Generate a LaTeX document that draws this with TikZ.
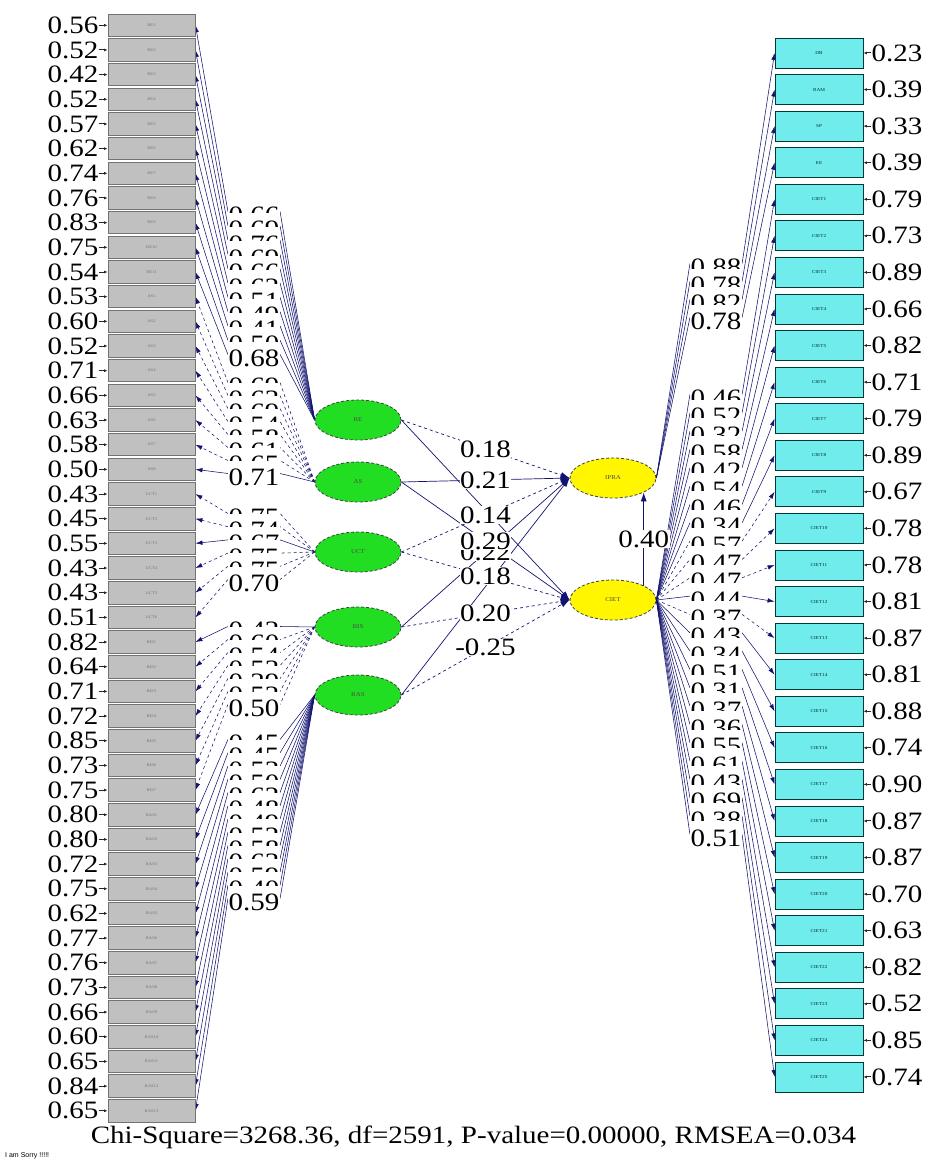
\documentclass[tikz,border=0pt]{standalone}
\usepackage{fontspec}
\setmainfont{Liberation Serif}[FakeStretch=1.16]
\setsansfont{Liberation Sans}
\usetikzlibrary{arrows.meta,shapes.geometric,positioning,backgrounds,calc}
\definecolor{obsgray}{RGB}{192,192,192}
\definecolor{obscyan}{RGB}{112,236,236}
\definecolor{exgreen}{RGB}{34,222,34}
\definecolor{enyellow}{RGB}{255,246,0}
\definecolor{pathnavy}{RGB}{18,18,112}
\newcommand{\bignum}{\fontsize{25}{25}\selectfont}
\tikzset{
  obsx/.style={
    draw=black!55,
    line width=0.9pt,
    fill=obsgray,
    minimum width=87pt,
    minimum height=22.5pt,
    inner sep=0pt,
    font=\fontsize{4}{4}\selectfont,
    text=black!55
  },
  obsy/.style={
    draw=teal!45!black,
    line width=0.9pt,
    fill=obscyan,
    minimum width=88pt,
    minimum height=30pt,
    inner sep=0pt,
    font=\fontsize{4.5}{4.5}\selectfont,
    text=teal!35!black
  },
  latent/.style={ellipse, draw=black!75, line width=0.8pt, dash pattern=on 3pt off 2pt,
    minimum width=86pt, minimum height=40pt, inner sep=0pt, font=\fontsize{6}{6}\selectfont, text=black!70},
  errnum/.style={font=\bignum, inner sep=0pt},
  ldnum/.style={font=\bignum, fill=white, inner xsep=0.5pt, inner ysep=0pt, text height=25pt, text depth=1pt},
  ldline/.style={draw=pathnavy, line width=0.55pt},
  ldtip/.style={-{Latex[length=7pt,width=4.5pt]}},
  errln/.style={draw=black!85, line width=1pt, -{Latex[length=3.5pt,width=3pt]}},
  spath/.style={draw=pathnavy, line width=0.7pt, -{Latex[length=9pt,width=6pt]}},
  pnum/.style={font=\bignum, fill=white, inner sep=0.5pt},
}
% loadings of one latent, labels stacked, lines latent -> label -> box
\newcommand{\LoadsWest}[6]{%
  \foreach \v/\s [count=\k] in {#6} {
    \pgfmathtruncatemacro{\j}{#3+\k-1}
    \node[ldnum] (#2\k) at (254,{#4+(\k-1)*#5}) {\v};
    \scoped[on background layer]{
      \draw[ldline,\s] (#1.west) -- (#2\k.east);
      \draw[ldline,ldtip,\s] (#2\k.west) -- (x\j.east);
    }
  }
}
\newcommand{\LoadsEast}[6]{%
  \foreach \v/\s [count=\k] in {#6} {
    \pgfmathtruncatemacro{\j}{#3+\k-1}
    \node[ldnum] (#2\k) at (716,{#4+(\k-1)*#5}) {\v};
    \scoped[on background layer]{
      \draw[ldline,\s] (#1.east) -- (#2\k.west);
      \draw[ldline,ldtip,\s] (#2\k.east) -- (y\j.west);
    }
  }
}

\begin{document}
\begin{tikzpicture}[x=1pt,y=-1pt]
  \useasboundingbox (0,0) rectangle (926,1166);

  % observed x-variables
  \foreach \t/\e [count=\i] in {RE1/0.56,RE2/0.52,RE3/0.42,RE4/0.52,RE5/0.57,RE6/0.62,RE7/0.74,RE8/0.76,
      RE9/0.83,RE10/0.75,RE11/0.54,AS1/0.53,AS2/0.60,AS3/0.52,AS4/0.71,AS5/0.66,AS6/0.63,AS7/0.58,AS8/0.50,
      UCT1/0.43,UCT2/0.45,UCT3/0.55,UCT4/0.43,UCT5/0.43,UCT6/0.51,BIS1/0.82,BIS2/0.64,BIS3/0.71,BIS4/0.72,
      BIS5/0.85,BIS6/0.73,BIS7/0.75,RAS1/0.80,RAS2/0.80,RAS3/0.72,RAS4/0.75,RAS5/0.62,RAS6/0.77,RAS7/0.76,
      RAS8/0.73,RAS9/0.66,RAS10/0.60,RAS11/0.65,RAS12/0.84,RAS13/0.65} {
    \node[obsx] (x\i) at (151.5,{0.63+\i*24.67}) {\t};
    \node[errnum, left=9pt of x\i] (ex\i) {\e};
    \draw[errln] (ex\i) -- (x\i);
  }

  % observed y-variables
  \foreach \t/\e [count=\i] in {DB/0.23,RAM/0.39,SP/0.33,EE/0.39,CIET1/0.79,CIET2/0.73,CIET3/0.89,CIET4/0.66,
      CIET5/0.82,CIET6/0.71,CIET7/0.79,CIET8/0.89,CIET9/0.67,CIET10/0.78,CIET11/0.78,CIET12/0.81,CIET13/0.87,
      CIET14/0.81,CIET15/0.88,CIET16/0.74,CIET17/0.90,CIET18/0.87,CIET19/0.87,CIET20/0.70,CIET21/0.63,
      CIET22/0.82,CIET23/0.52,CIET24/0.85,CIET25/0.74} {
    \node[obsy] (y\i) at (819,{16.43+\i*36.57}) {\t};
    \node[errnum, right=8pt of y\i] (ey\i) {\e};
    \draw[errln] (ey\i) -- (y\i);
  }

  % latent variables
  \node[latent, fill=exgreen] (RE) at (358,420) {RE};
  \node[latent, fill=exgreen] (AS) at (358,482) {AS};
  \node[latent, fill=exgreen] (UCT) at (358,552) {UCT};
  \node[latent, fill=exgreen] (BIS) at (358,627) {BIS};
  \node[latent, fill=exgreen] (RAS) at (358,695) {RAS};
  \node[latent, fill=enyellow] (IPRA) at (613,478) {IPRA};
  \node[latent, fill=enyellow] (CIET) at (613,600) {CIET};

  % loadings
  \LoadsWest{RE}{lre}{1}{211.5}{14.3}{0.66/solid,0.69/solid,0.76/solid,0.69/solid,0.66/solid,0.62/solid,
      0.51/solid,0.49/solid,0.41/solid,0.50/solid,0.68/solid}
  \LoadsWest{AS}{las}{12}{382.5}{13}{0.69/dashed,0.63/dashed,0.69/dashed,0.54/dashed,0.58/dashed,
      0.61/dashed,0.65/dashed,0.71/solid}
  \LoadsWest{UCT}{luct}{20}{513.5}{13.2}{0.75/dashed,0.74/dashed,0.67/solid,0.75/dashed,0.75/dashed,0.70/dashed}
  \LoadsWest{BIS}{lbis}{26}{626.5}{13}{0.42/solid,0.60/dashed,0.54/dashed,0.53/dashed,0.39/dashed,
      0.52/dashed,0.50/dashed}
  \LoadsWest{RAS}{lras}{33}{739.5}{13.25}{0.45/solid,0.45/solid,0.53/solid,0.50/solid,0.62/solid,0.48/solid,
      0.49/solid,0.52/solid,0.58/solid,0.63/solid,0.59/solid,0.40/solid,0.59/solid}
  \LoadsEast{IPRA}{lipra}{1}{263.5}{18}{0.88/solid,0.78/solid,0.82/solid,0.78/solid}
  \LoadsEast{CIET}{lciet}{5}{394.5}{18.33}{0.46/solid,0.52/solid,0.32/solid,0.58/solid,0.42/solid,
      0.54/solid,0.46/solid,0.34/solid,0.57/dashed,0.47/dashed,0.47/dashed,0.44/solid,0.37/dashed,
      0.43/solid,0.34/solid,0.51/solid,0.31/solid,0.37/solid,0.36/solid,0.55/solid,0.61/solid,
      0.43/solid,0.69/solid,0.38/solid,0.51/solid}

  % structural paths
  \begin{scope}[on background layer]
    \draw[spath, dashed] (RE.east) -- (IPRA.west);
    \draw[spath] (RE.east) -- (CIET.west);
    \draw[spath] (AS.east) -- (IPRA.west);
    \draw[spath] (AS.east) -- (CIET.west);
    \draw[spath, dashed] (UCT.east) -- (IPRA.west);
    \draw[spath, dashed] (UCT.east) -- (CIET.west);
    \draw[spath] (BIS.east) -- (IPRA.west);
    \draw[spath, dashed] (BIS.east) -- (CIET.west);
    \draw[spath] (RAS.east) -- (IPRA.west);
    \draw[spath, dashed] (RAS.east) -- (CIET.west);
    \draw[spath] (CIET.north east) -- (IPRA.south east);
  \end{scope}
  \node[pnum] (gBI) at ($(BIS.east)!0.5!(IPRA.west)$) {0.22};
  \node[pnum] (gRI) at ($(RE.east)!0.5!(IPRA.west)$) {0.18};
  \node[pnum] (gAI) at ($(AS.east)!0.5!(IPRA.west)$) {0.21};
  \node[pnum] (gUI) at ($(UCT.east)!0.5!(IPRA.west)$) {0.14};
  \node[pnum] (gAC) at ($(AS.east)!0.5!(CIET.west)$) {0.29};
  \node[pnum] (gUC) at ($(UCT.east)!0.5!(CIET.west)$) {0.18};
  \node[pnum] (gBC) at ($(BIS.east)!0.5!(CIET.west)$) {0.20};
  \node[pnum] (gRC) at ($(RAS.east)!0.5!(CIET.west)$) {-0.25};
  \node[pnum] (bCI) at ($(CIET.north east)!0.5!(IPRA.south east)$) {0.40};

  % fit line
  \node[font=\bignum, inner sep=0pt] (fit) at (473.5,1137) {Chi-Square=3268.36, df=2591, P-value=0.00000, RMSEA=0.034};
  \node[font=\sffamily\fontsize{7}{7}\selectfont, anchor=west, inner sep=0pt] (sorry) at (5,1156) {I am Sorry !!!!!};
\end{tikzpicture}
\end{document}
